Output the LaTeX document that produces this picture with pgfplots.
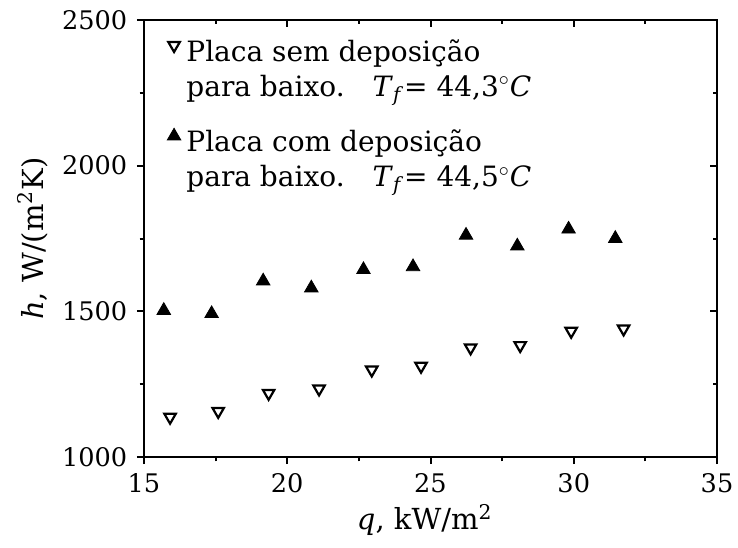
\documentclass[border=0pt]{standalone}
\usepackage{fontspec}
\setmainfont{DejaVu Serif}
\usepackage{pgfplots}
\pgfplotsset{compat=1.18}
\begin{document}
\fontsize{14}{17.5}\selectfont
\begin{tikzpicture}
\begin{axis}[
 at={(0,0)}, anchor=south west,
 width=286.5pt, height=218.5pt, scale only axis,
 xmin=15, xmax=35, ymin=1000, ymax=2500,
 xtick={15,20,25,30,35}, ytick={1000,1500,2000,2500},
 minor x tick num=1, minor y tick num=1,
 tick pos=left, tick align=outside,
 major tick length=3.5pt, minor tick length=2.2pt,
 axis line style={line width=1.1pt},
 every tick/.style={line width=1pt, black},
 /pgf/number format/assume math mode=true,
 /pgf/number format/1000 sep={},
 tick label style={font=\fontsize{12.8}{15}\selectfont},
 xlabel={\textit{q}, kW/m\textsuperscript{2}},
 ylabel={\textit{h}, W/(m\textsuperscript{2}K)},
 label style={font=\fontsize{14.5}{17}\selectfont},
 xlabel style={at={(axis description cs:0.49,-0.144)}, anchor=center},
 ylabel style={at={(axis description cs:-0.194,0.5)}, anchor=center},
 legend image code/.code={\draw[#1] plot coordinates {(0pt,2.8pt)};},
 legend cell align=left,
 legend style={at={(axis description cs:0.04,0.972)}, anchor=north west,
   draw=none, fill=none, row sep=27pt, column sep=0.8pt, inner xsep=0pt, inner ysep=0pt,
   font=\fontsize{14}{17.5}\selectfont},
]
\addplot[only marks, mark=triangle, mark size=3.3pt, black,
  mark options={rotate=180, line width=1.1pt, fill=white}]
 coordinates {
 (15.91,1137) (17.59,1157) (19.35,1219) (21.11,1234) (22.95,1299)
 (24.67,1312) (26.40,1375) (28.13,1383) (29.91,1432) (31.74,1440)
 };
\addlegendentry{\begin{tabular}[t]{@{}l@{}}Placa sem deposição\\para baixo.\quad\textit{T}\textsubscript{\textit{f}}= 44,3$^{\circ}$\textit{C}\end{tabular}}
\addplot[only marks, mark=triangle*, mark size=3.9pt, black]
 coordinates {
 (15.69,1503) (17.36,1492) (19.16,1604) (20.84,1580) (22.66,1643)
 (24.39,1653) (26.24,1761) (28.03,1724) (29.82,1782) (31.45,1750)
 };
\addlegendentry{\begin{tabular}[t]{@{}l@{}}Placa com deposição\\para baixo.\quad\textit{T}\textsubscript{\textit{f}}= 44,5$^{\circ}$\textit{C}\end{tabular}}
\end{axis}
\begin{axis}[
 at={(0,0)}, anchor=south west,
 width=286.5pt, height=218.5pt, scale only axis,
 xmin=15, xmax=35, ymin=1000, ymax=2500,
 xtick={15,20,25,30,35}, ytick={1000,1500,2000,2500},
 minor x tick num=1, minor y tick num=1,
 tick pos=right, tick align=inside,
 major tick length=3.5pt, minor tick length=2.2pt,
 axis line style={line width=1.1pt},
 every tick/.style={line width=1pt, black},
 xticklabels={}, yticklabels={},
]
\end{axis}
\pgfresetboundingbox
\path[use as bounding box] (-72pt,-45pt) rectangle (297pt,228.5pt);
\end{tikzpicture}
\end{document}
